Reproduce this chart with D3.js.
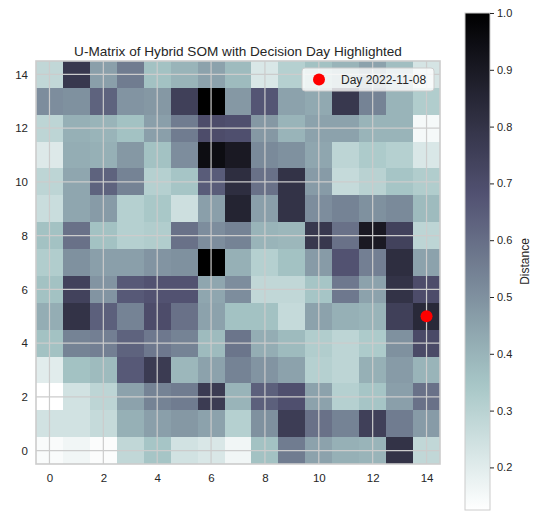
<!DOCTYPE html>
<html>
<head>
<meta charset="utf-8">
<script src="https://cdn.jsdelivr.net/npm/d3@7/dist/d3.min.js"></script>
<style>
  html, body { margin: 0; padding: 0; background: #ffffff; }
  svg { display: block; font-family: "Liberation Sans", Arial, sans-serif; }
</style>
</head>
<body>
<svg id="chart" width="533" height="511"></svg>
<script>
// U-Matrix distances of a 15x15 SOM, listed from the top row (y = 14) down to y = 0.
const umatrixRows = [
  [0.28, 0.78, 0.46, 0.56, 0.36, 0.40, 0.45, 0.38, 0.22, 0.31, 0.36, 0.40, 0.45, 0.37, 0.23],
  [0.51, 0.50, 0.63, 0.49, 0.48, 0.75, 1.00, 0.48, 0.67, 0.45, 0.43, 0.78, 0.54, 0.40, 0.32],
  [0.29, 0.41, 0.40, 0.36, 0.46, 0.56, 0.70, 0.69, 0.48, 0.40, 0.45, 0.45, 0.40, 0.40, 0.15],
  [0.21, 0.42, 0.41, 0.48, 0.36, 0.51, 0.95, 0.90, 0.52, 0.50, 0.44, 0.29, 0.33, 0.31, 0.22],
  [0.29, 0.44, 0.63, 0.54, 0.31, 0.35, 0.65, 0.82, 0.59, 0.80, 0.47, 0.27, 0.30, 0.35, 0.32],
  [0.26, 0.44, 0.47, 0.31, 0.34, 0.25, 0.46, 0.86, 0.46, 0.80, 0.51, 0.54, 0.50, 0.52, 0.38],
  [0.36, 0.59, 0.36, 0.31, 0.32, 0.59, 0.51, 0.54, 0.40, 0.39, 0.78, 0.59, 0.90, 0.74, 0.29],
  [0.32, 0.50, 0.46, 0.46, 0.49, 0.50, 1.00, 0.41, 0.31, 0.36, 0.47, 0.68, 0.55, 0.82, 0.45],
  [0.36, 0.74, 0.49, 0.66, 0.68, 0.68, 0.44, 0.51, 0.28, 0.28, 0.35, 0.57, 0.45, 0.80, 0.70],
  [0.42, 0.80, 0.64, 0.54, 0.70, 0.59, 0.45, 0.36, 0.36, 0.27, 0.45, 0.41, 0.40, 0.75, 0.84],
  [0.36, 0.54, 0.55, 0.63, 0.57, 0.54, 0.38, 0.58, 0.42, 0.38, 0.32, 0.29, 0.33, 0.50, 0.71],
  [0.20, 0.36, 0.38, 0.66, 0.77, 0.39, 0.45, 0.54, 0.49, 0.45, 0.31, 0.29, 0.41, 0.47, 0.40],
  [0.125, 0.24, 0.29, 0.45, 0.54, 0.56, 0.77, 0.40, 0.64, 0.69, 0.45, 0.31, 0.35, 0.46, 0.59],
  [0.24, 0.24, 0.27, 0.41, 0.46, 0.48, 0.45, 0.31, 0.50, 0.76, 0.59, 0.54, 0.75, 0.56, 0.47],
  [0.14, 0.16, 0.135, 0.28, 0.35, 0.24, 0.22, 0.16, 0.36, 0.56, 0.45, 0.41, 0.40, 0.80, 0.28]
];

// Highlighted decision day on the map
const decisionDay = [{ label: "Day 2022-11-08", x: 14, y: 5 }];

const axisTicks = [0, 2, 4, 6, 8, 10, 12, 14];
const colorbarTicks = [0.2, 0.3, 0.4, 0.5, 0.6, 0.7, 0.8, 0.9, 1.0];

const titleText = "U-Matrix of Hybrid SOM with Decision Day Highlighted";
const colorbarLabel = "Distance";

// ---- bone colormap (reversed), piecewise linear ----
const boneSegments = {
  r: [[0, 0], [0.746032, 0.652778], [1, 1]],
  g: [[0, 0], [0.365079, 0.319444], [0.746032, 0.777778], [1, 1]],
  b: [[0, 0], [0.365079, 0.444444], [1, 1]]
};
function segInterp(seg, s) {
  for (let i = 1; i < seg.length; i++) {
    if (s <= seg[i][0]) {
      const [x0, y0] = seg[i - 1], [x1, y1] = seg[i];
      return y0 + (y1 - y0) * (s - x0) / (x1 - x0);
    }
  }
  return seg[seg.length - 1][1];
}
function boneR(t) {
  const s = 1 - Math.max(0, Math.min(1, t));
  const c = ch => Math.round(255 * segInterp(boneSegments[ch], s));
  return `rgb(${c("r")},${c("g")},${c("b")})`;
}

// ---- layout ----
const plot = { left: 36, top: 61, right: 440, bottom: 464 };
const cbar = { left: 465, right: 490, top: 13, bottom: 510 };

const cells = [];
umatrixRows.forEach((row, ri) => {
  row.forEach((v, ci) => cells.push({ x: ci, y: umatrixRows.length - 1 - ri, v }));
});
const extent = d3.extent(cells, d => d.v);

const x = d3.scaleLinear().domain([-0.5, 14.5]).range([plot.left, plot.right]);
const y = d3.scaleLinear().domain([-0.5, 14.5]).range([plot.bottom, plot.top]);
const color = d3.scaleSequential(boneR).domain(extent);

const svg = d3.select("#chart");
const textColor = "#262626";
const gridColor = "#cccccc";

// Heatmap cells
svg.append("g")
  .selectAll("rect")
  .data(cells)
  .join("rect")
  .attr("x", d => x(d.x - 0.5))
  .attr("y", d => y(d.y + 0.5))
  .attr("width", d => x(d.x + 0.5) - x(d.x - 0.5) + 0.3)
  .attr("height", d => y(d.y - 0.5) - y(d.y + 0.5) + 0.3)
  .attr("fill", d => color(d.v))
  .attr("shape-rendering", "crispEdges");

// Grid lines drawn over the image
const grid = svg.append("g").attr("stroke", gridColor).attr("stroke-width", 1.2);
grid.selectAll("line.vx").data(axisTicks).join("line")
  .attr("x1", d => x(d)).attr("x2", d => x(d))
  .attr("y1", plot.top).attr("y2", plot.bottom);
grid.selectAll("line.hy").data(axisTicks).join("line")
  .attr("y1", d => y(d)).attr("y2", d => y(d))
  .attr("x1", plot.left).attr("x2", plot.right);

// Frame
svg.append("rect")
  .attr("x", plot.left).attr("y", plot.top)
  .attr("width", plot.right - plot.left).attr("height", plot.bottom - plot.top)
  .attr("fill", "none").attr("stroke", gridColor).attr("stroke-width", 1.6);

// Axes (tick labels only)
const xAxis = svg.append("g")
  .attr("transform", `translate(0,${plot.bottom})`)
  .call(d3.axisBottom(x).tickValues(axisTicks).tickSize(0).tickPadding(10));
const yAxis = svg.append("g")
  .attr("transform", `translate(${plot.left},0)`)
  .call(d3.axisLeft(y).tickValues(axisTicks).tickSize(0).tickPadding(8));
[xAxis, yAxis].forEach(g => {
  g.select(".domain").remove();
  g.selectAll("text").attr("fill", textColor).style("font-size", "11.5px")
    .style("font-family", "'Liberation Sans', Arial, sans-serif");
});

// Decision day marker
svg.append("g")
  .selectAll("circle")
  .data(decisionDay)
  .join("circle")
  .attr("cx", d => x(d.x))
  .attr("cy", d => y(d.y))
  .attr("r", 6)
  .attr("fill", "#ff0000");

// Title
svg.append("text")
  .attr("x", (plot.left + plot.right) / 2)
  .attr("y", 56)
  .attr("text-anchor", "middle")
  .attr("fill", textColor)
  .style("font-size", "13.6px")
  .text(titleText);

// Legend
const legend = svg.append("g").attr("transform", "translate(302,68)");
legend.append("rect")
  .attr("width", 132).attr("height", 23).attr("rx", 3)
  .attr("fill", "#ffffff").attr("fill-opacity", 0.8)
  .attr("stroke", gridColor).attr("stroke-width", 1);
legend.selectAll("circle").data(decisionDay).join("circle")
  .attr("cx", 17).attr("cy", 11.5).attr("r", 6).attr("fill", "#ff0000");
legend.selectAll("text").data(decisionDay).join("text")
  .attr("x", 39).attr("y", 15.5)
  .attr("fill", textColor)
  .style("font-size", "12px")
  .text(d => d.label);

// Colorbar
const defs = svg.append("defs");
const grad = defs.append("linearGradient")
  .attr("id", "cbGrad").attr("x1", 0).attr("x2", 0).attr("y1", 1).attr("y2", 0);
d3.range(0, 1.0001, 0.02).forEach(t => {
  grad.append("stop").attr("offset", t).attr("stop-color", boneR(t));
});
svg.append("rect")
  .attr("x", cbar.left).attr("y", cbar.top)
  .attr("width", cbar.right - cbar.left).attr("height", cbar.bottom - cbar.top)
  .attr("fill", "url(#cbGrad)")
  .attr("stroke", gridColor).attr("stroke-width", 1);

const cbY = d3.scaleLinear().domain(extent).range([cbar.bottom, cbar.top]);
const cbAxis = svg.append("g")
  .attr("transform", `translate(${cbar.right},0)`)
  .call(d3.axisRight(cbY).tickValues(colorbarTicks).tickFormat(d3.format(".1f")).tickSize(4).tickPadding(3));
cbAxis.select(".domain").remove();
cbAxis.selectAll("line").attr("stroke", textColor);
cbAxis.selectAll("text").attr("fill", textColor).style("font-size", "11px")
  .style("font-family", "'Liberation Sans', Arial, sans-serif");

svg.append("text")
  .attr("transform", `translate(529,${(cbar.top + cbar.bottom) / 2}) rotate(-90)`)
  .attr("text-anchor", "middle")
  .attr("fill", textColor)
  .style("font-size", "12px")
  .text(colorbarLabel);
</script>
</body>
</html>
